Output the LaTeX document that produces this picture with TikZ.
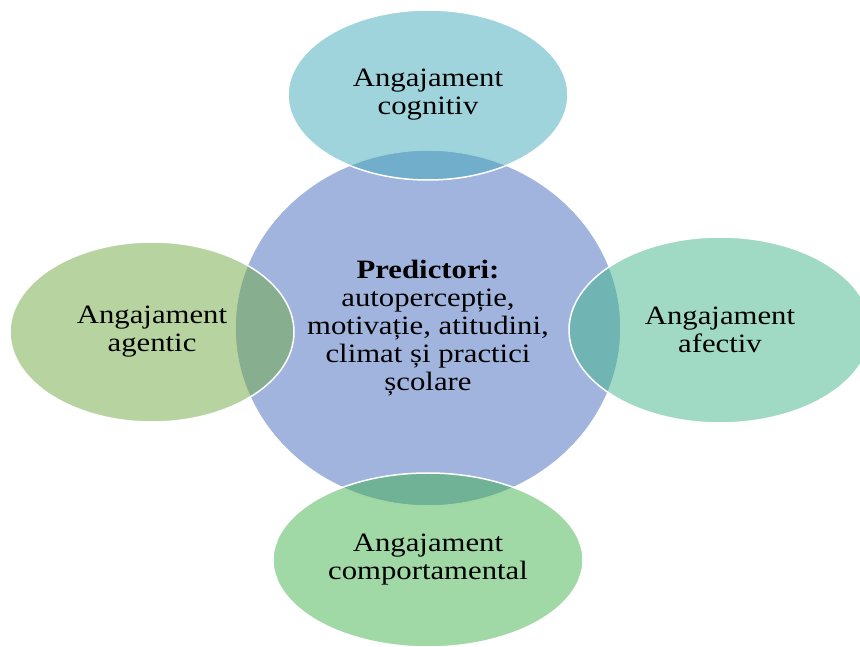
\documentclass[tikz,border=0pt]{standalone}
\usepackage{fontspec}
\setmainfont{Liberation Serif}[FakeStretch=1.16]
\usepackage{tikz}
\usetikzlibrary{shapes,positioning}
\definecolor{predblue}{RGB}{160,180,222}
\definecolor{cogteal}{RGB}{65,169,185}
\definecolor{agegreen}{RGB}{111,169,65}
\definecolor{afemint}{RGB}{65,181,137}
\definecolor{comgreen}{RGB}{65,177,77}
\tikzstyle{hub} = [draw=white, line width=1.5pt, fill=predblue, ellipse,
minimum width=386pt, minimum height=356pt, inner sep=0pt, align=center]
\tikzstyle{petal} = [draw=white, line width=1.5pt, ellipse, fill opacity=0.5,
draw opacity=1, text opacity=1, inner sep=0pt, align=center]

\begin{document}
\begin{tikzpicture}[x=1pt, y=1pt, font=\fontsize{26.5}{28}\selectfont]
	\clip (0,0) rectangle (860,646);
	\node [hub] (Pred) at (428,318) {\textbf{Predictori:}\\autopercepție,\\motivație, atitudini,\\climat și practici\\școlare};
	\node [petal, fill=cogteal, minimum width=280pt, minimum height=170pt, above of=Pred, node distance=233pt] (Cognitiv) {Angajament\\cognitiv};
	\node [petal, fill=agegreen, minimum width=284pt, minimum height=180pt, left of=Pred, node distance=276pt, yshift=-4pt] (Agentic) {Angajament\\agentic};
	\node [petal, fill=afemint, minimum width=302pt, minimum height=186pt, right of=Pred, node distance=292pt, yshift=-2pt] (Afectiv) {Angajament\\afectiv};
	\node [petal, fill=comgreen, minimum width=310pt, minimum height=174pt, below of=Pred, node distance=232pt] (Comport) {Angajament\\comportamental};
\end{tikzpicture}
\end{document}
